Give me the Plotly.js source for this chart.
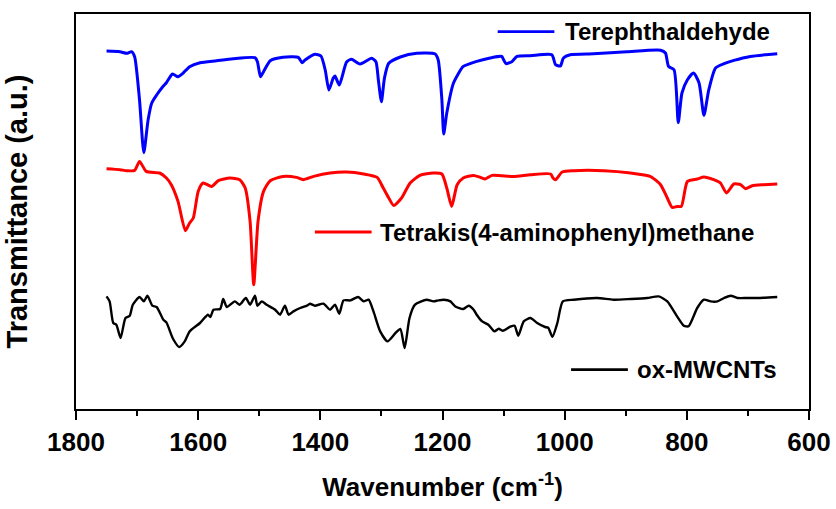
<!DOCTYPE html>
<html>
<head>
<meta charset="utf-8">
<script src="https://cdn.plot.ly/plotly-3.0.1.min.js"></script>
<style>html,body{margin:0;padding:0;background:#fff;}#chart{width:836px;height:509px;}</style>
</head>
<body>
<div id="chart"></div>
<script>
// Wavenumber (cm-1) and transmittance (a.u., offset per spectrum)
const seriesNames = ["Terephthaldehyde", "Tetrakis(4-aminophenyl)methane", "ox-MWCNTs"];
const seriesColors = ["#0000FF", "#FF0000", "#000000"];

const terephWn = [1750,1728,1717,1709,1704,1696,1689,1682,1676,1668,1657,1652,1642,1633,1625,1614,1597,1570,1543,1507,1503,1498,1493,1482,1461,1436,1430,1425,1409,1399,1392,1386,1379,1376,1369,1357,1349,1335,1316,1309,1305,1300,1295,1288,1269,1242,1212,1207,1201,1198,1193,1182,1166,1155,1144,1122,1103,1100,1096,1086,1078,1056,1021,1015,1007,1002,991,953,898,843,835,830,821,814,808,799,789,780,772,764,753,739,723,696,652];
const terephT = [358,357.3,355.7,357.3,352.3,309,256.3,289,306,314,323,326.3,335,332.3,335.7,342.3,346.3,348.3,350.3,351.3,347.3,332.3,337.3,348.3,351.7,351.7,346.3,349,354.7,353,339,319,330.7,333,324,347,349.7,345,350.7,347.3,329,307.3,331,345.7,352,355.7,355,349,309,275,296,326,342.6,345.3,347.6,351,352.6,349.3,345.3,347.6,352.6,353.3,354.3,344.3,343,351,354.3,355.3,357.3,358.8,356,342.6,339.3,286.3,316,329.3,336,326,293.8,319.3,341,345.3,348.6,352.6,355.3];

const tetraWn = [1750,1728,1717,1704,1696,1685,1663,1652,1644,1633,1621,1614,1608,1600,1592,1578,1567,1548,1532,1523,1515,1509,1502,1493,1482,1461,1439,1428,1411,1384,1357,1329,1307,1297,1288,1280,1267,1253,1237,1215,1201,1193,1185,1176,1166,1149,1138,1130,1119,1084,1056,1023,1019,1015,1004,985,936,892,860,843,832,824,816,809,799,783,772,756,745,735,723,712,704,693,674,652];
const tetraT = [240.3,239.3,238.3,238.6,247.6,237.6,236,231,224.3,207.6,178.3,186,191,217.6,226,222.6,228.3,231,229.3,221,187.6,124.3,187.6,217.6,228.3,232.6,231.6,229.3,232.6,236,237,235,231.6,221,211,203.6,211,226,233.6,236,235,221,202.6,224.3,231,233.6,231.6,230,233.6,232.6,234.3,235,231,229.3,237,238.3,238.3,236,232.6,224.3,211,201.6,202.6,202.6,227.6,230,232,229.3,226,216,225,224.3,220.3,223.3,224.3,225];

const cntWn = [1750,1745,1739,1734,1727,1719,1712,1707,1696,1689,1683,1675,1668,1657,1652,1641,1631,1622,1614,1597,1584,1580,1575,1564,1559,1553,1540,1532,1522,1515,1507,1503,1496,1488,1474,1466,1458,1452,1444,1433,1422,1417,1409,1395,1384,1376,1369,1362,1351,1338,1329,1321,1313,1302,1290,1277,1269,1262,1254,1245,1226,1215,1207,1198,1187,1179,1166,1157,1149,1144,1135,1125,1115,1108,1101,1089,1082,1076,1067,1056,1045,1032,1027,1020,1012,1003,985,947,920,892,865,846,832,816,805,797,783,772,761,750,739,728,717,701,685,652];
const cntT = [112.6,107.6,86,84.3,71,91,93.3,104.3,112,107.6,113.3,103.3,102,89.3,86.6,70,62,67.6,77.6,86,94.3,92,99.3,100,110,102,107.6,104.3,111,104.3,113.3,103.3,107.6,104.3,99.3,94.3,103.3,94.3,97.6,101,103.3,105.3,103.3,105.3,99.3,104.3,95.3,108.6,108.6,112,107.6,109.3,97.6,77.6,67.6,76,80,61,91,104.3,109.3,107.6,108.6,109.3,107.6,102.6,100,103.3,99.3,94.3,87.6,84.3,77.6,80.3,78.3,82.3,83.3,73.3,87.6,91,86,82,81.3,72.3,86,107.6,109.3,111,109.3,110,111,112.6,107.6,92.6,83.3,82.8,101,109.3,107.6,107.6,111,113.3,111,111,111,112];

const xTickVals = [1800,1600,1400,1200,1000,800,600];
const xTickText = ["1800","1600","1400","1200","1000","800","600"];

const FONT = "Arial, 'Liberation Sans', sans-serif";

const xs = [terephWn, tetraWn, cntWn];
const ys = [terephT, tetraT, cntT];
const widths = [3, 3, 2.4];

const traces = seriesNames.map((n, i) => ({
  type: "scatter", mode: "lines", name: n,
  x: xs[i], y: ys[i],
  line: {color: seriesColors[i], width: widths[i], shape: "spline", smoothing: 0.6},
  showlegend: false
}));

// legend samples placed beside each spectrum (paper coordinates)
const legendPos = [
  {x0: 0.5753, x1: 0.6526, y: 0.9552, tx: 0.6641},
  {x0: 0.3259, x1: 0.4033, y: 0.4481, tx: 0.4123},
  {x0: 0.6754, x1: 0.7529, y: 0.0995, tx: 0.7633}
];
const shapes = legendPos.map((p, i) => ({
  type: "line", xref: "paper", yref: "paper",
  x0: p.x0, x1: p.x1, y0: p.y, y1: p.y,
  line: {color: seriesColors[i], width: 2.8}
}));
const annotations = legendPos.map((p, i) => ({
  xref: "paper", yref: "paper", x: p.tx, y: p.y,
  xanchor: "left", yanchor: "middle", showarrow: false,
  text: seriesNames[i],
  font: {family: FONT, size: 24, color: "#000", weight: "bold"}
}));

const layout = {
  width: 836, height: 509,
  margin: {l: 76, r: 27, t: 14, b: 100},
  paper_bgcolor: "#fff", plot_bgcolor: "#fff",
  font: {family: FONT, color: "#000"},
  xaxis: {
    range: [1800, 600],
    tickmode: "array", tickvals: xTickVals, ticktext: xTickText,
    ticks: "outside", ticklen: 9, tickwidth: 2, tickcolor: "#000",
    minor: {dtick: 100, ticks: "outside", ticklen: 5, tickwidth: 2, tickcolor: "#000", showgrid: false},
    showline: true, linecolor: "#000", linewidth: 2, mirror: true,
    showgrid: false, zeroline: false,
    tickfont: {family: FONT, size: 26, color: "#000", weight: "bold"},
    title: {text: "Wavenumber (cm<sup>-1</sup>)", font: {family: FONT, size: 26, color: "#000", weight: "bold"}, standoff: 22},
    automargin: false
  },
  yaxis: {
    range: [0, 395],
    showticklabels: false, ticks: "",
    showline: true, linecolor: "#000", linewidth: 2, mirror: true,
    showgrid: false, zeroline: false,
    title: {text: "Transmittance (a.u.)", font: {family: FONT, size: 29, color: "#000", weight: "bold"}, standoff: 38},
    automargin: false
  },
  shapes: shapes,
  annotations: annotations,
  showlegend: false
};

Plotly.newPlot("chart", traces, layout, {displayModeBar: false, staticPlot: true});
</script>
</body>
</html>
